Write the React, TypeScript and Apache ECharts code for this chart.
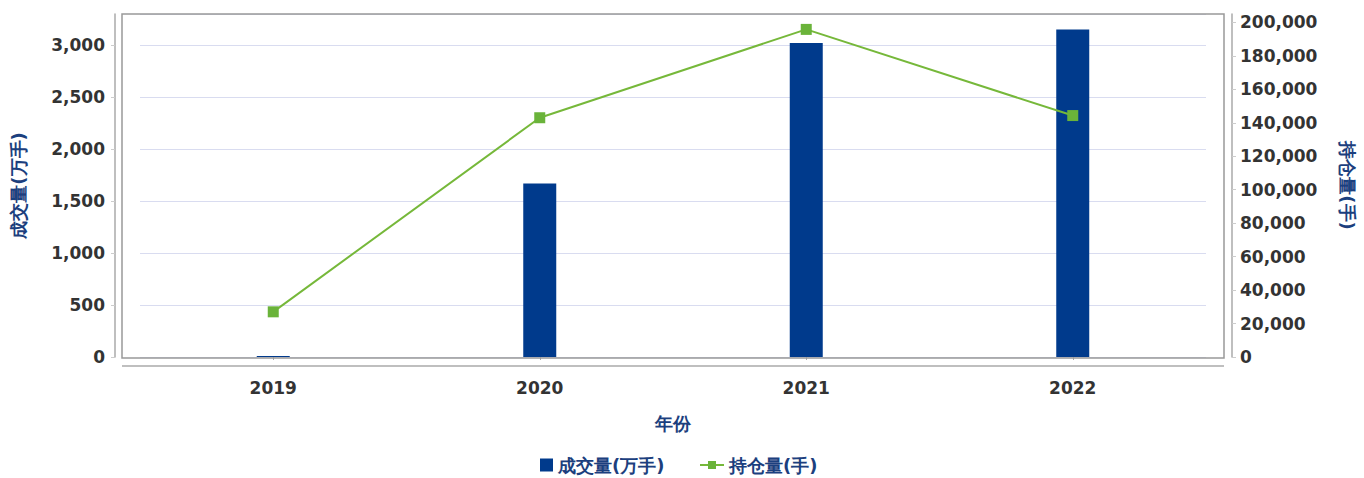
import React, { useEffect, useRef } from "react";
import * as echarts from "echarts";

const categories = ["2019", "2020", "2021", "2022"];
const volumeWan = [10, 1670, 3020, 3150];
const openInterest = [27000, 143000, 195800, 144300];
const volumeName = "成交量(万手)";
const oiName = "持仓量(手)";
const xName = "年份";

const BLUE = "#003a8c";
const GREEN = "#76b83a";
const NAME_COLOR = "#1c3f7e";
const FONT = "DejaVu Sans, Verdana, sans-serif";

export default function App() {
  const ref = useRef<HTMLDivElement>(null);
  useEffect(() => {
    document.body.style.margin = "0";
    if (!ref.current) return;
    const chart = echarts.init(ref.current, null, { renderer: "svg" });
    const tickLabel = { color: "#333", fontWeight: "bold" as const, fontSize: 17, fontFamily: FONT };
    const nameStyle = { color: NAME_COLOR, fontWeight: "bold" as const, fontSize: 18, fontFamily: FONT };
    chart.setOption({
      animation: false,
      grid: { left: 140, right: 158, top: 14, bottom: 121 },
      graphic: [
        {
          type: "rect",
          shape: { x: 122, y: 14, width: 1102, height: 344 },
          style: { fill: "none", stroke: "#999", lineWidth: 1.5 },
          z: 10,
        },
        {
          type: "line",
          shape: { x1: 122, y1: 366, x2: 1224, y2: 366 },
          style: { stroke: "#aaa", lineWidth: 1.5 },
        },
      ],
      legend: [
        {
          data: [{ name: volumeName, icon: "rect" }],
          left: 540,
          top: 455,
          padding: 0,
          itemWidth: 13,
          itemHeight: 13,
          itemGap: 6,
          textStyle: { ...nameStyle, lineHeight: 20 },
        },
        {
          data: [{ name: oiName }],
          left: 699,
          top: 455,
          padding: 0,
          itemWidth: 24,
          itemHeight: 10,
          textStyle: { ...nameStyle, lineHeight: 20 },
        },
      ],
      xAxis: {
        type: "category",
        data: categories,
        offset: 9,
        axisLine: { show: false },
        axisTick: { show: true, alignWithLabel: true, length: 3, lineStyle: { color: "#aaa" } },
        axisLabel: { ...tickLabel, margin: 13 },
        name: xName,
        nameLocation: "middle",
        nameGap: 48,
        nameTextStyle: nameStyle,
      },
      yAxis: [
        {
          type: "value",
          min: 0,
          max: 3300,
          interval: 500,
          offset: 25,
          axisLine: { show: true, lineStyle: { color: "#aaa", width: 1.5 } },
          axisTick: { show: true, length: 4, lineStyle: { color: "#ccc" } },
          axisLabel: {
            ...tickLabel,
            margin: 10,
            showMaxLabel: false,
            formatter: (v: number) => v.toLocaleString("en-US"),
          },
          splitLine: { show: true, lineStyle: { color: "#d9dcf0", width: 1 } },
          name: volumeName,
          nameLocation: "middle",
          nameRotate: 90,
          nameGap: 88,
          nameTextStyle: nameStyle,
        },
        {
          type: "value",
          min: 0,
          max: 205000,
          interval: 20000,
          offset: 26,
          position: "right",
          axisLine: { show: true, lineStyle: { color: "#aaa", width: 1.5 } },
          axisTick: { show: true, length: 4, lineStyle: { color: "#ccc" } },
          axisLabel: {
            ...tickLabel,
            margin: 8,
            showMaxLabel: false,
            formatter: (v: number) => v.toLocaleString("en-US"),
          },
          splitLine: { show: false },
          name: oiName,
          nameLocation: "middle",
          nameRotate: -90,
          nameGap: 106,
          nameTextStyle: { ...nameStyle, padding: [0, 0, 0, 0] },
        },
      ],
      series: [
        {
          name: volumeName,
          type: "bar",
          data: volumeWan,
          yAxisIndex: 0,
          barWidth: 33,
          itemStyle: { color: BLUE },
        },
        {
          name: oiName,
          type: "line",
          data: openInterest,
          yAxisIndex: 1,
          symbol: "rect",
          symbolSize: 11,
          lineStyle: { color: GREEN, width: 2 },
          itemStyle: { color: "#6ab33a" },
        },
      ],
    });
    return () => chart.dispose();
  }, []);
  return <div ref={ref} style={{ width: 1364, height: 478 }} />;
}
